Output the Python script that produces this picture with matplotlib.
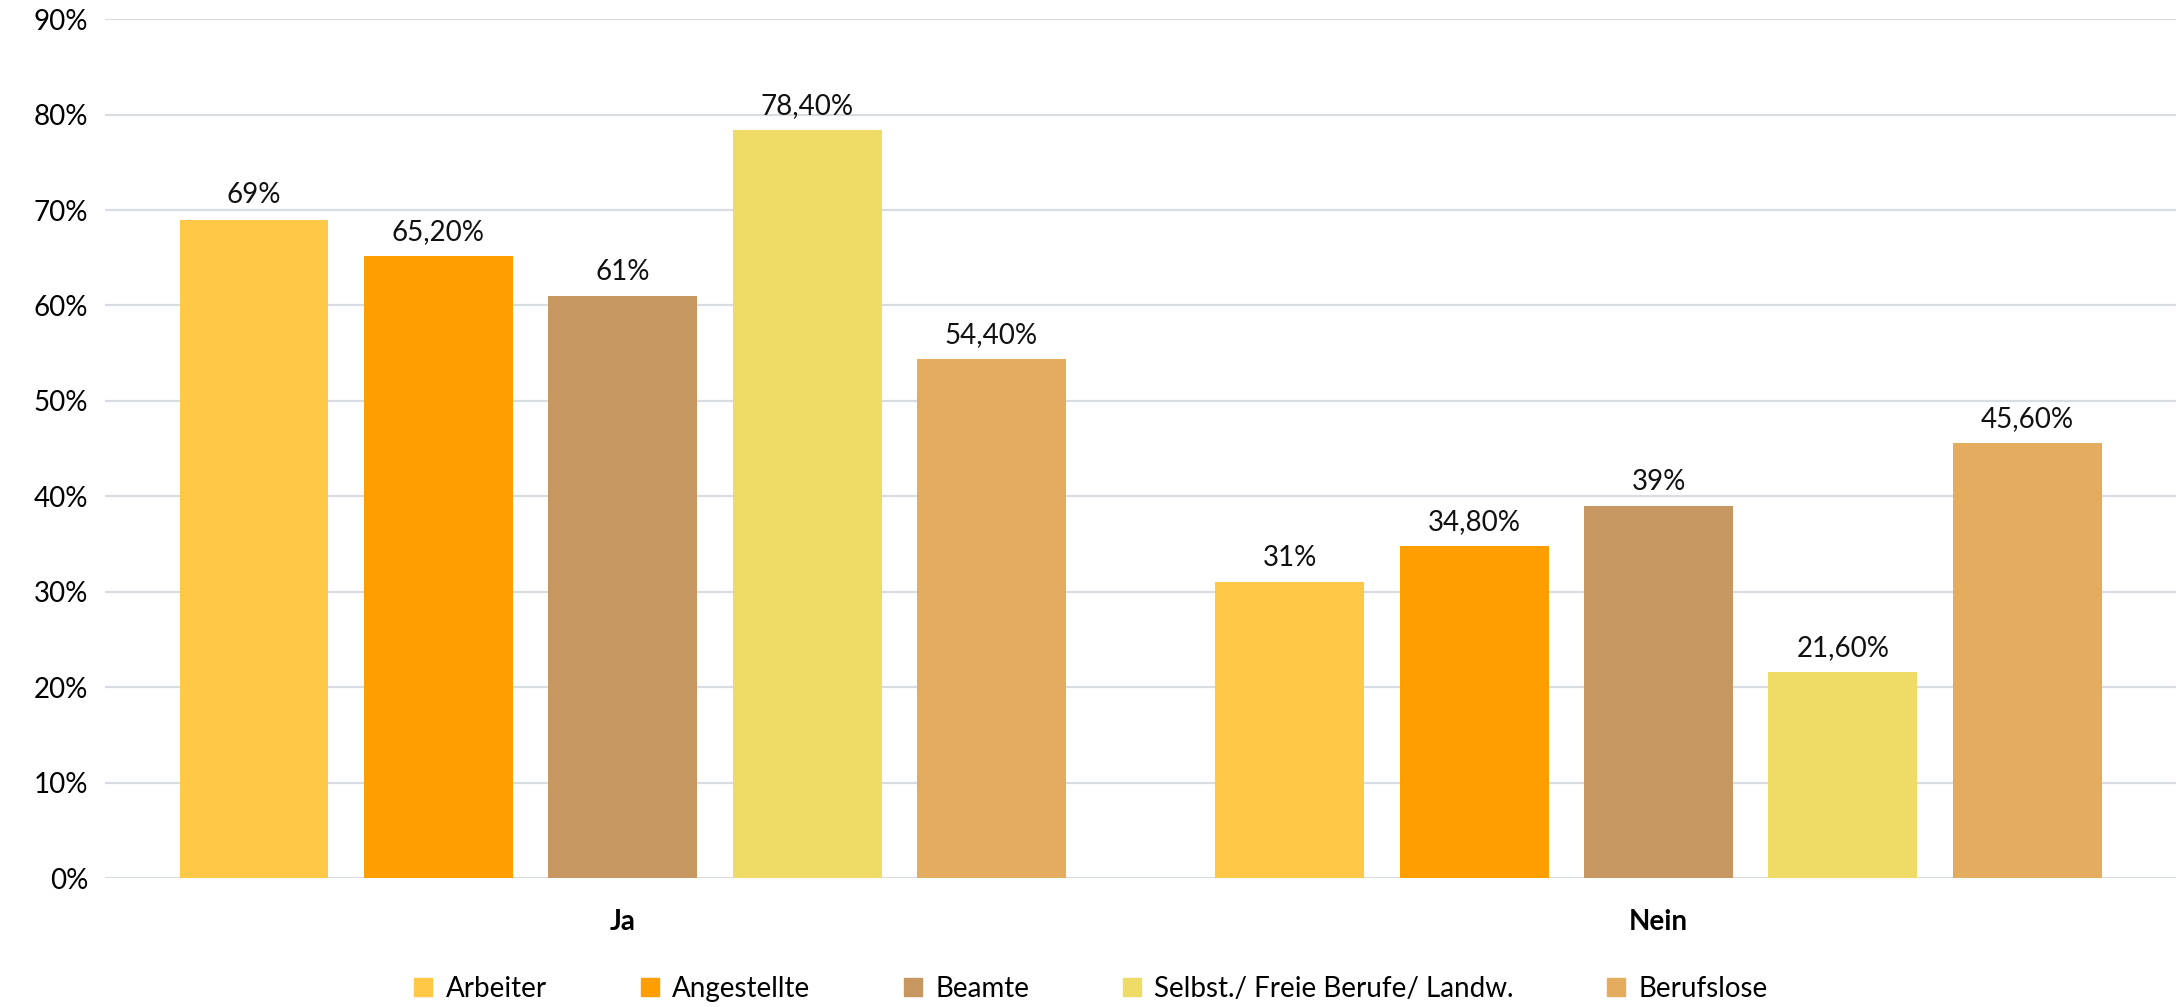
import matplotlib.pyplot as plt
from matplotlib.lines import Line2D
import numpy as np

# Data
categories = ['Ja', 'Nein']
groups = ['Arbeiter', 'Angestellte', 'Beamte', 'Selbst./ Freie Berufe/ Landw.', 'Berufslose']
ja_values = [69, 65.2, 61, 78.4, 54.4]
nein_values = [31, 34.8, 39, 21.6, 45.6]
colors = ['#FFC947', '#FF9E00', '#C69760', '#EFDC67', '#E4AC5E']

plt.rcParams['font.family'] = ['Lato', 'DejaVu Sans']

def fmt_label(v):
    if float(v).is_integer():
        return '%d%%' % v
    return ('%.2f%%' % v).replace('.', ',')

fig = plt.figure(figsize=(21.83, 10.07), dpi=100)
ax = fig.add_axes([0.048, 0.128, 0.949, 0.853])

bar_w = 0.1437
step = 0.178
x = np.arange(len(categories))

for i, name in enumerate(groups):
    vals = [ja_values[i], nein_values[i]]
    pos = x + (i - 2) * step
    bars = ax.bar(pos, vals, width=bar_w, color=colors[i], zorder=3)
    for b, v in zip(bars, vals):
        ax.annotate(fmt_label(v), (b.get_x() + b.get_width() / 2, v),
                    xytext=(0, 8), textcoords='offset points',
                    ha='center', va='bottom', fontsize=20, color='#111111')

ax.set_xlim(-0.5, 1.5)
ax.set_ylim(0, 90)
ax.set_yticks(range(0, 91, 10))
ax.set_yticklabels(['%d%%' % t for t in range(0, 91, 10)], fontsize=20)
ax.set_xticks(x)
ax.set_xticklabels(categories, fontsize=20, fontweight='bold')
ax.tick_params(axis='both', length=0)
ax.tick_params(axis='y', pad=12)
ax.tick_params(axis='x', pad=22)

ax.grid(axis='y', color='#D9DDE3', linewidth=1.6, zorder=0)
for s in ax.spines.values():
    s.set_visible(False)

handles = [Line2D([0], [0], marker='s', linestyle='', markersize=13,
                  markerfacecolor=c, markeredgecolor=c) for c in colors]
fig.legend(handles, groups, loc='lower center', ncol=5, frameon=False,
           fontsize=20, bbox_to_anchor=(0.5, -0.02),
           handlelength=0.6, handletextpad=0.5, columnspacing=3.4)

fig.savefig('out.png', dpi=100)
